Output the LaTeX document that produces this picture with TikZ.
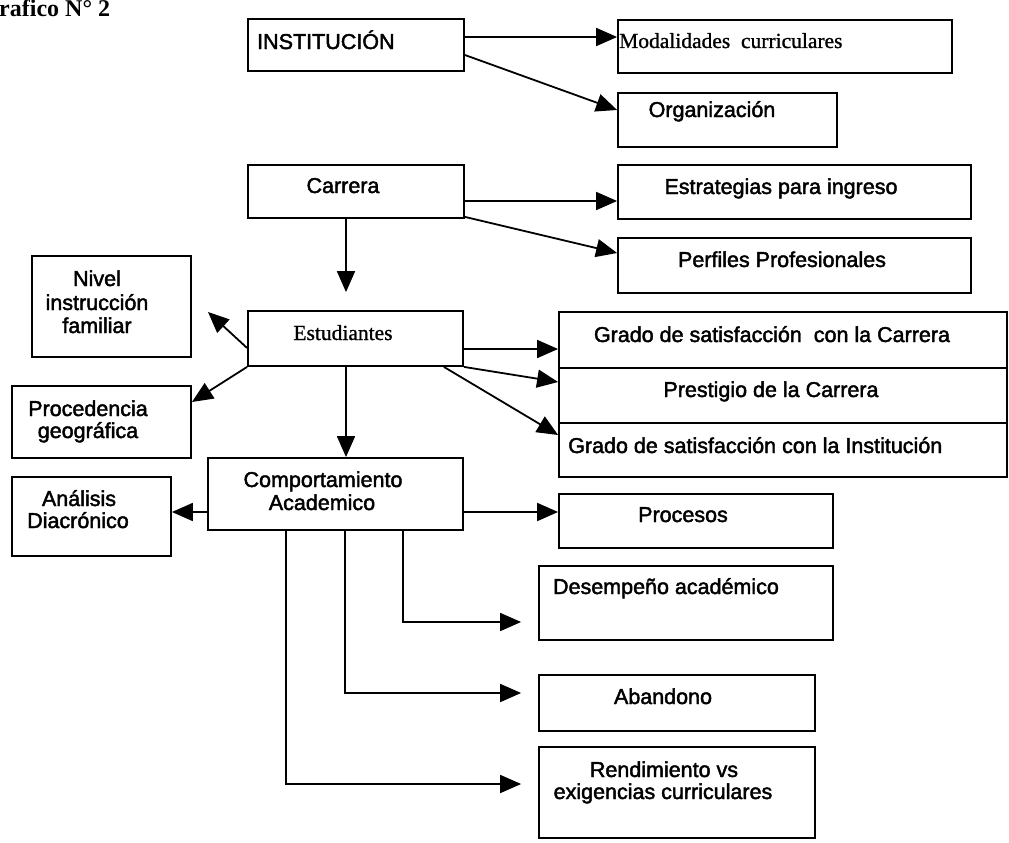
\documentclass[tikz,border=0pt]{standalone}
\usepackage{fontspec}
\setmainfont{Liberation Sans}
\newfontfamily\arialf[FakeBold=2]{Liberation Sans}
\newfontfamily\timesf[FakeBold=1]{Liberation Serif}
\newfontfamily\timesbf{Liberation Serif Bold}
\usetikzlibrary{arrows.meta,fit}
\begin{document}
\begin{tikzpicture}[x=1pt,y=-1pt,
  box/.style={draw, line width=1.8pt, inner sep=0pt},
  arr/.style={line width=1.8pt, -{Triangle[length=21pt,width=18pt]}},
  lbl/.style={font=\arialf\fontsize{21.5}{23.5}\selectfont, inner sep=0pt, anchor=base},
  lbls/.style={font=\timesf\fontsize{21.5}{23.5}\selectfont, inner sep=0pt, anchor=base}]
\useasboundingbox (0,0) rectangle (1009,843);

% title
\node[font=\timesbf\fontsize{24}{26}\selectfont, inner sep=0pt, anchor=base west] (title) at (-1,17) {rafico N° 2};

% boxes
\node[box, fit={(248,19) (464,71)}] (inst) {};
\node[box, fit={(618,20) (952,73)}] (moda) {};
\node[box, fit={(618,93) (837,147)}] (orga) {};
\node[box, fit={(248,165) (464,218)}] (carr) {};
\node[box, fit={(618,165) (971,219)}] (estr) {};
\node[box, fit={(618,238) (971,293)}] (perf) {};
\node[box, fit={(32,256) (191,357)}] (nivel) {};
\node[box, fit={(248,311) (463,366)}] (estu) {};
\node[box, fit={(12,386) (191,458)}] (proc) {};
\node[box, fit={(208,458) (463,530)}] (comp) {};
\node[box, fit={(12,477) (171,556)}] (anal) {};
\node[box, fit={(559,312) (1007,368)}] (g1) {};
\node[box, fit={(559,368) (1007,423)}] (g2) {};
\node[box, fit={(559,423) (1007,477)}] (g3) {};
\node[box, fit={(559,494) (833,548)}] (proce) {};
\node[box, fit={(539,566) (833,640)}] (dese) {};
\node[box, fit={(539,675) (815,731)}] (aban) {};
\node[box, fit={(539,747) (815,838)}] (rend) {};

% texts
\node[lbl, anchor=base west] (tinst) at (257,49) {INSTITUCIÓN};
\node[lbls, anchor=base west] (tmoda) at (619,48) {Modalidades\ \ curriculares};
\node[lbl] (torga) at (712,117) {Organización};
\node[lbl] (tcarr) at (343,193) {Carrera};
\node[lbl] (testr) at (781,194) {Estrategias para ingreso};
\node[lbl] (tperf) at (782,267) {Perfiles Profesionales};
\node[lbl] (tniv1) at (97,286) {Nivel};
\node[lbl] (tniv2) at (97,310) {instrucción};
\node[lbl] (tniv3) at (97,333) {familiar};
\node[lbls] (testu) at (343,340) {Estudiantes};
\node[lbl] (tproc1) at (88,416) {Procedencia};
\node[lbl] (tproc2) at (88,438) {geográfica};
\node[lbl] (tcomp1) at (323,487) {Comportamiento};
\node[lbl] (tcomp2) at (322,510) {Academico};
\node[lbl] (tanal1) at (79,506) {Análisis};
\node[lbl] (tanal2) at (78,528) {Diacrónico};
\node[lbl] (tg1) at (772,342) {Grado de satisfacción\ \ con la Carrera};
\node[lbl] (tg2) at (771,397) {Prestigio de la Carrera};
\node[lbl, anchor=base west] (tg3) at (568,453) {Grado de satisfacción con la Institución};
\node[lbl] (tproce) at (683,522) {Procesos};
\node[lbl] (tdese) at (666,594) {Desempeño académico};
\node[lbl] (taban) at (663,704) {Abandono};
\node[lbl] (trend1) at (664,777) {Rendimiento vs};
\node[lbl] (trend2) at (663,799) {exigencias curriculares};

% connectors
\draw[arr] ([yshift=8pt]inst.east) coordinate (a1) -- (a1 -| moda.west);
\draw[arr] ([yshift=-10pt]inst.east) -- ([yshift=10pt]orga.west);
\draw[arr] ([yshift=-9.5pt]carr.east) coordinate (a2) -- (a2 -| estr.west);
\draw[arr] ([yshift=2pt]carr.south east) -- ([yshift=12.5pt]perf.west);
\draw[arr, shorten >=18pt] ([xshift=-10pt]carr.south) coordinate (a3) -- (a3 |- estu.north);

\coordinate (nivtip) at (208,312);
\draw[arr] ([yshift=-9.5pt]estu.west) -- (nivtip);
\draw[arr] (estu.south west) -- ([yshift=20pt]proc.east);
\draw[arr] ([xshift=-9.5pt]estu.south) coordinate (a4) -- (a4 |- comp.north);
\draw[arr] ([yshift=-10.5pt]estu.east) coordinate (a5) -- (a5 -| g1.west);
\draw[arr] (estu.south east) -- ([yshift=13.5pt]g2.west);
\draw[arr] ([xshift=-20pt]estu.south east) -- ([yshift=15pt]g3.west);

\draw[arr] ([yshift=-18pt]comp.west) coordinate (a6) -- (a6 -| anal.east);
\draw[arr] ([yshift=-18pt]comp.east) coordinate (a7) -- (a7 -| proce.west);
\draw[arr, shorten >=17pt] ([xshift=67.5pt]comp.south) |- ([yshift=-19pt]dese.west);
\draw[arr, shorten >=17pt] ([xshift=9.5pt]comp.south) |- ([yshift=10pt]aban.west);
\draw[arr, shorten >=17pt] ([xshift=-49.5pt]comp.south) |- ([yshift=8.5pt]rend.west);
\end{tikzpicture}
\end{document}
